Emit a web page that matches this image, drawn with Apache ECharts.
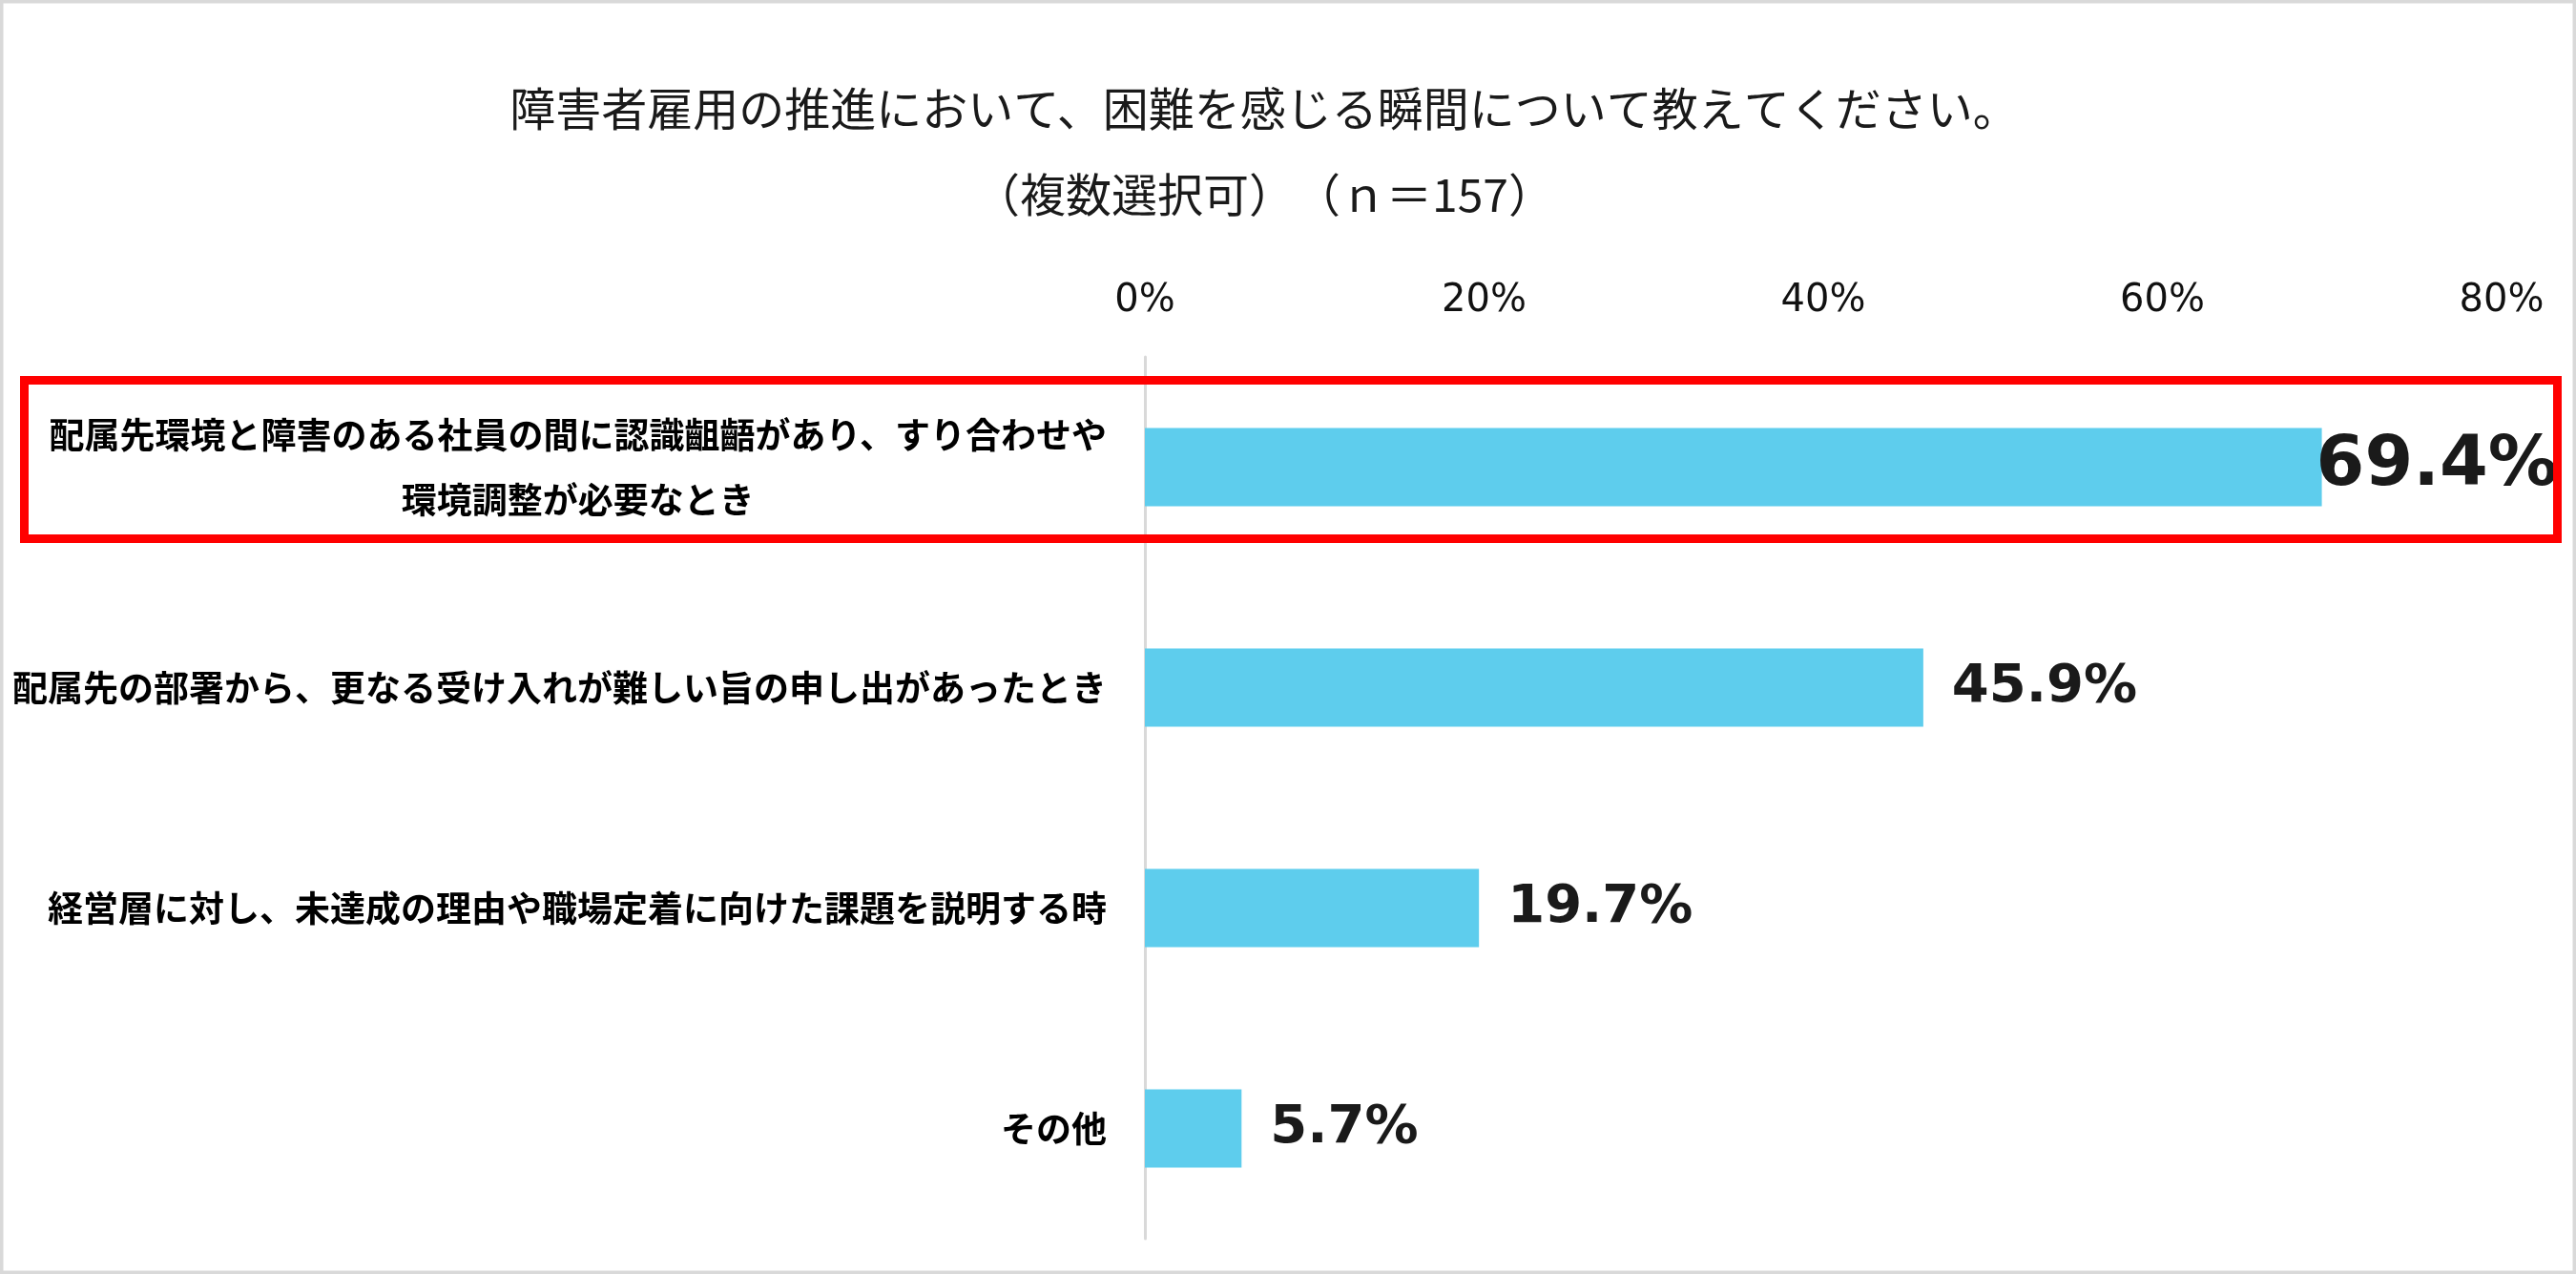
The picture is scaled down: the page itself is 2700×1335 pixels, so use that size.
<!DOCTYPE html>
<html>
<head>
<meta charset="utf-8">
<script src="https://cdn.jsdelivr.net/npm/echarts@6/dist/echarts.min.js"></script>
<style>
  html, body { margin: 0; padding: 0; background: #fff; }
  #chart { width: 2700px; height: 1335px; }
</style>
</head>
<body>
<div id="chart"></div>
<script>
// 設問と回答データ
const titleLines = ['障害者雇用の推進において、困難を感じる瞬間について教えてください。', '（複数選択可）　（ｎ＝157）'];
const categories = [
  '配属先環境と障害のある社員の間に認識齟齬があり、すり合わせや\n環境調整が必要なとき',
  '配属先の部署から、更なる受け入れが難しい旨の申し出があったとき',
  '経営層に対し、未達成の理由や職場定着に向けた課題を説明する時',
  'その他'
];
const values = [69.4, 45.9, 19.7, 5.7];
const tickMin = 0, tickMax = 80, tickStep = 20;

const chart = echarts.init(document.getElementById('chart'));

// 先頭の項目だけラベルを大きく
const barData = values.map((v, i) => {
  if (i === 0) {
    return { value: v, label: { fontSize: 73, distance: -6 } };
  }
  return v;
});

const option = {
  backgroundColor: '#ffffff',
  animation: false,
  title: {
    text: titleLines.join('\n'),
    left: 1320,
    top: 64,
    textAlign: 'center',
    textStyle: {
      fontFamily: 'Noto Sans CJK JP',
      fontSize: 48,
      fontWeight: 'normal',
      color: '#1a1a1a',
      lineHeight: 90
    }
  },
  grid: { left: 1200, right: 78, top: 374, bottom: 37 },
  xAxis: {
    type: 'value',
    position: 'top',
    min: tickMin,
    max: tickMax,
    interval: tickStep,
    axisLine: { show: false },
    axisTick: { show: false },
    splitLine: { show: false },
    axisLabel: {
      formatter: '{value}%',
      fontFamily: 'DejaVu Sans',
      fontSize: 40,
      color: '#111',
      margin: 38
    }
  },
  yAxis: {
    type: 'category',
    inverse: true,
    data: categories,
    axisLine: { show: true, lineStyle: { color: '#d9d9d9', width: 3 } },
    axisTick: { show: false },
    axisLabel: {
      margin: 40,
      formatter: v => v.split('\n').map(s => '{c|' + s + '}').join('\n'),
      rich: {
        c: {
          align: 'center',
          fontFamily: 'Noto Sans CJK JP',
          fontWeight: 'bold',
          fontSize: 37,
          lineHeight: 68,
          color: '#000'
        }
      }
    }
  },
  series: [{
    type: 'bar',
    data: barData,
    barWidth: 82,
    itemStyle: { color: '#5ECDED' },
    label: {
      show: true,
      position: 'right',
      distance: 30,
      formatter: '{c}%',
      fontFamily: 'DejaVu Sans',
      fontWeight: 'bold',
      fontSize: 56,
      color: '#1a1a1a'
    }
  }],
  graphic: [
    {
      type: 'rect',
      z: 100,
      shape: { x: 25.5, y: 398.5, width: 2655, height: 166 },
      style: { fill: null, stroke: '#ff0000', lineWidth: 9 }
    },
    {
      type: 'rect',
      z: 100,
      shape: { x: 0, y: 0, width: 2700, height: 1335 },
      style: { fill: null, stroke: '#d9d9d9', lineWidth: 7 }
    }
  ]
};

chart.setOption(option);
</script>
</body>
</html>
